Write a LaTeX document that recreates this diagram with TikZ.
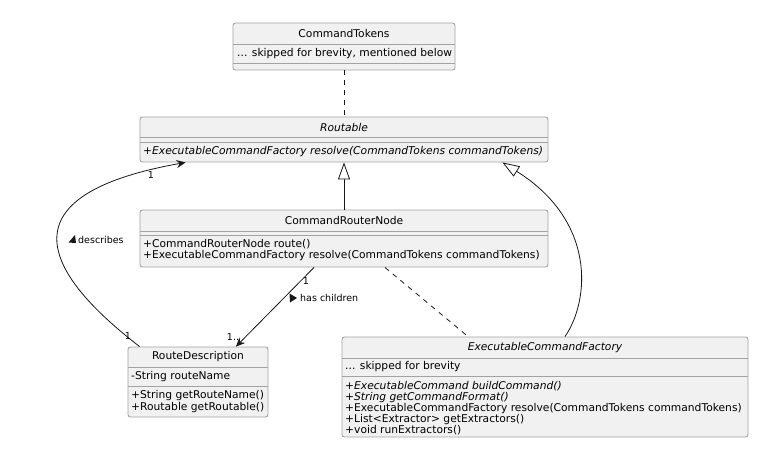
\documentclass[tikz,border=0pt]{standalone}
\usepackage{fontspec}
\setmainfont{DejaVu Sans}
\usepackage{tikz}
\usetikzlibrary{arrows.meta, positioning, calc}
\definecolor{boxfill}{HTML}{F1F1F1}
\definecolor{boxline}{HTML}{A2A2A2}
\definecolor{linkcol}{HTML}{181818}
\tikzset{
	classbox/.style={draw=boxline, fill=boxfill, rounded corners=2.5pt, inner sep=0pt, line width=0.9pt}
}
\tikzset{
	classname/.style={inner sep=0pt, font=\fontsize{10.7}{12}\selectfont},
	member/.style={inner sep=0pt, anchor=west, font=\fontsize{10.7}{12}\selectfont},
	linklabel/.style={inner sep=0pt, font=\fontsize{9.5}{11}\selectfont},
	sepline/.style={draw=boxline, line width=0.9pt},
	link/.style={draw=linkcol, line width=0.8pt},
	dottedlink/.style={link, dash pattern=on 5pt off 5pt},
	inherits/.style={link, -{Triangle[open, length=17pt, width=12pt, fill=white]}},
	assoc/.style={link, -{Stealth[length=9pt, width=8pt, inset=3pt]}}
}

\begin{document}
\begin{tikzpicture}[x=1pt, y=-1pt]
      \useasboundingbox (0,0) rectangle (775,449);
      % CommandTokens
      \node[classbox, minimum width=222, minimum height=47] (ct) at (344,46.5) {};
      \draw[sepline] (ct.west |- 0,44) -- (ct.east |- 0,44);
      \draw[sepline] (ct.west |- 0,63) -- (ct.east |- 0,63);
      \node[classname] (ct-name) at (344,34) {CommandTokens};
      \node[member] (ct-f1) at (237,53.5) {... skipped for brevity, mentioned below};
      % Routable
      \node[classbox, minimum width=408, minimum height=45] (rt) at (344,139.5) {};
      \draw[sepline] (rt.west |- 0,137) -- (rt.east |- 0,137);
      \draw[sepline] (rt.west |- 0,142) -- (rt.east |- 0,142);
      \node[classname] (rt-name) at (344,127.5) {\itshape Routable};
      \node[member] (rt-m1) at (143,152) {\itshape +ExecutableCommandFactory resolve(CommandTokens commandTokens)};
      % CommandRouterNode
      \node[classbox, minimum width=408, minimum height=57] (crn) at (344,238.5) {};
      \draw[sepline] (crn.west |- 0,231) -- (crn.east |- 0,231);
      \draw[sepline] (crn.west |- 0,235) -- (crn.east |- 0,235);
      \node[classname] (crn-name) at (344,221) {CommandRouterNode};
      \node[member] (crn-m1) at (143,244.5) {+CommandRouterNode route()};
      \node[member] (crn-m2) at (143,256) {+ExecutableCommandFactory resolve(CommandTokens commandTokens)};
      % RouteDescription
      \node[classbox, minimum width=140, minimum height=70] (rd) at (198,382) {};
      \draw[sepline] (rd.west |- 0,367) -- (rd.east |- 0,367);
      \draw[sepline] (rd.west |- 0,386) -- (rd.east |- 0,386);
      \node[classname] (rd-name) at (198,357) {RouteDescription};
      \node[member] (rd-f1) at (131,377) {-String routeName};
      \node[member] (rd-m1) at (131,396) {+String getRouteName()};
      \node[member] (rd-m2) at (131,407.5) {+Routable getRoutable()};
      % ExecutableCommandFactory
      \node[classbox, minimum width=406, minimum height=100] (ecf) at (545,387) {};
      \draw[sepline] (ecf.west |- 0,358) -- (ecf.east |- 0,358);
      \draw[sepline] (ecf.west |- 0,376) -- (ecf.east |- 0,376);
      \node[classname] (ecf-name) at (545,348) {\itshape ExecutableCommandFactory};
      \node[member] (ecf-f1) at (345,367) {... skipped for brevity};
      \node[member] (ecf-m1) at (345,386.5) {\itshape +ExecutableCommand buildCommand()};
      \node[member] (ecf-m2) at (345,397.5) {\itshape +String getCommandFormat()};
      \node[member] (ecf-m3) at (345,408.5) {+ExecutableCommandFactory resolve(CommandTokens commandTokens)};
      \node[member] (ecf-m4) at (345,419.5) {+List<Extractor> getExtractors()};
      \node[member] (ecf-m5) at (345,430.5) {+void runExtractors()};
      % links
      \draw[dottedlink] (ct.south) -- (rt.north);
      \draw[inherits] (crn.north) -- (rt.south);
      \draw[inherits] ([xshift=20]ecf.north) .. controls (590,300) and (596,221) .. ([xshift=-46]rt.south east);
      \draw[dottedlink] ([xshift=41]crn.south) -- ([xshift=-77]ecf.north);
      \draw[assoc] ([xshift=12]rd.north west) .. controls (60,285) and (-14,198) .. ([xshift=46]rt.south west);
      \draw[assoc] ([xshift=-30]crn.south) -- ([xshift=38]rd.north);
      % link labels
      \node[linklabel] (rt-mult) at (151,175) {1};
      \node[linklabel] (rd-mult) at (128,336) {1};
      \node[linklabel, anchor=west] (desc-lbl) at (78,240) {describes};
      \fill[linkcol] (desc-lbl.west) ++(-3,-5) -- ++(1,8) -- ++(-7.5,-0.5) -- cycle;
      \node[linklabel] (crn-mult) at (306,281) {1};
      \node[linklabel] (kids-mult) at (233,337) {1..};
      \node[linklabel, anchor=west] (kids-lbl) at (300,298) {has children};
      \fill[linkcol] (kids-lbl.west) ++(-10.5,-4.5) -- ++(7.5,4.5) -- ++(-7,4.5) -- cycle;
    \end{tikzpicture}
\end{document}
